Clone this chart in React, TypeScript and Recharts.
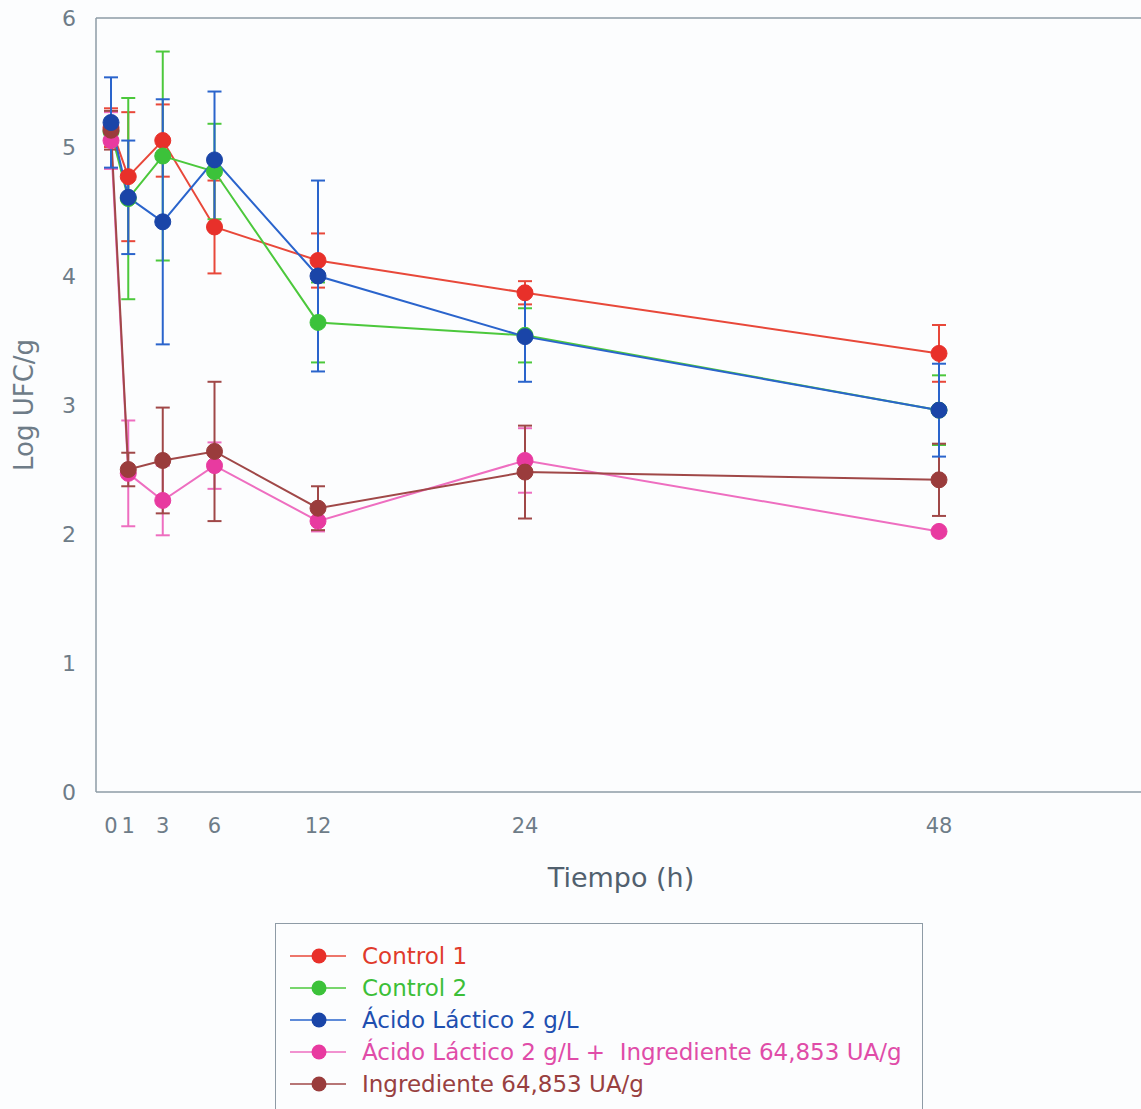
import React from "react";
import { LineChart, Line, XAxis, YAxis, ErrorBar, ReferenceLine } from "recharts";

const times = [0, 1, 3, 6, 12, 24, 48];
const xTicks = [0, 1, 3, 6, 12, 24, 48];
const yTicks = [0, 1, 2, 3, 4, 5, 6];

const control1 = [5.15, 4.77, 5.05, 4.38, 4.12, 3.87, 3.4];
const control1Err = [0.15, 0.5, 0.28, 0.36, 0.21, 0.09, 0.22];
const control2 = [5.12, 4.6, 4.93, 4.81, 3.64, 3.54, 2.96];
const control2Err = [0.1, 0.78, 0.81, 0.37, 0.31, 0.21, 0.27];
const acido = [5.19, 4.61, 4.42, 4.9, 4.0, 3.53, 2.96];
const acidoErr = [0.35, 0.44, 0.95, 0.53, 0.74, 0.35, 0.36];
const acidoIng = [5.05, 2.47, 2.26, 2.53, 2.1, 2.57, 2.02];
const acidoIngErr = [0.22, 0.41, 0.27, 0.18, 0.08, 0.25, 0];
const ingrediente = [5.13, 2.5, 2.57, 2.64, 2.2, 2.48, 2.42];
const ingredienteErr = [0.15, 0.13, 0.41, 0.54, 0.17, 0.36, 0.28];

const seriesNames = [
  "Control 1",
  "Control 2",
  "Ácido Láctico 2 g/L",
  "Ácido Láctico 2 g/L +  Ingrediente 64,853 UA/g",
  "Ingrediente 64,853 UA/g",
];

const data = times.map((t, i) => ({
  t,
  c1: control1[i],
  c1e: control1Err[i],
  c2: control2[i],
  c2e: control2Err[i],
  al: acido[i],
  ale: acidoErr[i],
  ai: acidoIng[i],
  aie: acidoIngErr[i],
  ing: ingrediente[i],
  inge: ingredienteErr[i],
}));

const series = [
  { key: "c1", err: "c1e", name: seriesNames[0], line: "#e8483a", fill: "#e8302a", text: "#e03a2c" },
  { key: "c2", err: "c2e", name: seriesNames[1], line: "#4cc83c", fill: "#3cc23a", text: "#3cbf38" },
  { key: "ai", err: "aie", name: seriesNames[3], line: "#ee6ec0", fill: "#e83aa0", text: "#e04ca8" },
  { key: "ing", err: "inge", name: seriesNames[4], line: "#a04848", fill: "#9a3c3c", text: "#984040" },
  { key: "al", err: "ale", name: seriesNames[2], line: "#2a64cc", fill: "#1a45a8", text: "#1f4fb0" },
];

const legendOrder = ["c1", "c2", "al", "ai", "ing"];

const FONT = "'DejaVu Sans', Verdana, sans-serif";
const AXIS_GREY = "#8e9ba6";
const TEXT_GREY = "#6e7c88";

export default function App() {
  return (
    <div
      style={{
        position: "fixed",
        left: 0,
        top: 0,
        width: 1141,
        height: 1109,
        overflow: "hidden",
        background: "#fcfdfe",
        fontFamily: FONT,
      }}
    >
      <LineChart
        width={1160}
        height={1109}
        data={data}
        margin={{ top: 18, right: 14, left: 0, bottom: 227 }}
      >
        <XAxis
          dataKey="t"
          type="number"
          domain={[-0.87, 60]}
          ticks={xTicks}
          interval={0}
          tickLine={false}
          tickSize={0}
          tickMargin={26}
          height={90}
          stroke={AXIS_GREY}
          strokeWidth={1.5}
          tick={{ fill: TEXT_GREY, fontSize: 21, fontFamily: FONT }}
          label={{
            value: "Tiempo (h)",
            position: "insideBottom",
            offset: -5,
            fill: "#51606e",
            fontSize: 27,
            fontFamily: FONT,
          }}
        />
        <YAxis
          type="number"
          domain={[0, 6]}
          ticks={yTicks}
          interval={0}
          tickLine={false}
          tickSize={0}
          tickMargin={20}
          width={96}
          stroke={AXIS_GREY}
          strokeWidth={1.5}
          tick={{ fill: TEXT_GREY, fontSize: 22, fontFamily: FONT }}
          label={{
            value: "Log UFC/g",
            angle: -90,
            position: "insideLeft",
            offset: 24,
            style: { textAnchor: "middle" },
            fill: TEXT_GREY,
            fontSize: 26,
            fontFamily: FONT,
          }}
        />
        <ReferenceLine y={6} stroke={AXIS_GREY} strokeWidth={1.5} />
        {series.map((s) => (
          <Line
            key={s.key}
            dataKey={s.key}
            name={s.name}
            stroke={s.line}
            strokeWidth={2}
            isAnimationActive={false}
            dot={{ r: 8, fill: s.fill, stroke: s.fill, strokeWidth: 1, fillOpacity: 1 }}
            activeDot={false}
          >
            <ErrorBar
              dataKey={s.err}
              direction="y"
              width={7}
              stroke={s.line}
              strokeWidth={2}
            />
          </Line>
        ))}
      </LineChart>
      <div
        style={{
          position: "absolute",
          left: 275,
          top: 923,
          width: 648,
          height: 220,
          border: `1.5px solid ${AXIS_GREY}`,
          boxSizing: "border-box",
          paddingTop: 16,
        }}
      >
        {legendOrder.map((k) => {
          const s = series.find((x) => x.key === k)!;
          return (
            <div
              key={k}
              style={{ display: "flex", alignItems: "center", height: 32 }}
            >
              <svg width={86} height={32} style={{ flex: "none" }}>
                <line x1={14} x2={70} y1={16} y2={16} stroke={s.line} strokeWidth={1.5} />
                <circle cx={43} cy={16} r={7.5} fill={s.fill} />
              </svg>
              <span style={{ color: s.text, fontSize: 23, fontFamily: FONT, whiteSpace: "pre" }}>
                {s.name}
              </span>
            </div>
          );
        })}
      </div>
    </div>
  );
}
